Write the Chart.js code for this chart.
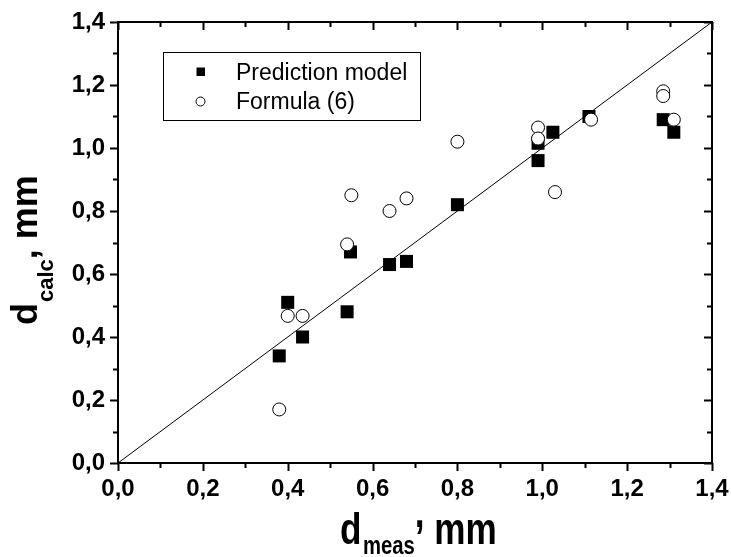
<!DOCTYPE html>
<html><head><meta charset="utf-8">
<script src="https://cdn.jsdelivr.net/npm/chart.js@4/dist/chart.umd.min.js"></script>
<style>html,body{margin:0;padding:0;background:#fff}#wrap{width:731px;height:557px}</style>
</head><body><div id="wrap"><canvas id="c" width="731" height="557"></canvas></div>
<script>
const predictionX = [0.38, 0.40, 0.435, 0.54, 0.548, 0.64, 0.68, 0.80, 0.99, 0.99, 1.025, 1.11, 1.285, 1.31];
const predictionY = [0.34, 0.51, 0.40, 0.48, 0.67, 0.63, 0.64, 0.82, 0.96, 1.015, 1.05, 1.10, 1.09, 1.05];
const formulaX = [0.38, 0.40, 0.435, 0.54, 0.55, 0.64, 0.68, 0.80, 0.99, 0.99, 1.03, 1.115, 1.285, 1.285, 1.31];
const formulaY = [0.17, 0.467, 0.467, 0.694, 0.85, 0.80, 0.84, 1.02, 1.065, 1.03, 0.86, 1.09, 1.18, 1.165, 1.09];
const lineX = [0, 1.4];
const lineY = [0, 1.4];
const tickValues = [0, 0.2, 0.4, 0.6, 0.8, 1.0, 1.2, 1.4];
const minorTickValues = [0.1, 0.3, 0.5, 0.7, 0.9, 1.1, 1.3];
const seriesNames = ['Prediction model', 'Formula (6)'];

const pts = (xs, ys) => xs.map((x, i) => ({x: x, y: ys[i]}));
const fmt = v => v.toFixed(1).replace('.', ',');
const FONT = '"Liberation Sans", Arial, sans-serif';

const framePlugin = {
  id: 'frame',
  afterDraw(chart) {
    const ctx = chart.ctx, xs = chart.scales.x, ys = chart.scales.y;
    const a = chart.chartArea;
    ctx.save();
    ctx.strokeStyle = '#000';
    ctx.lineWidth = 2;
    ctx.strokeRect(a.left, a.top, a.right - a.left, a.bottom - a.top);
    ctx.beginPath();
    const tick = (vals, len) => {
      vals.forEach(v => {
        const px = Math.round(xs.getPixelForValue(v)) + 0.5;
        ctx.moveTo(px, a.bottom); ctx.lineTo(px, a.bottom + len);
        ctx.moveTo(px, a.top); ctx.lineTo(px, a.top + len);
        const py = Math.round(ys.getPixelForValue(v)) + 0.5;
        ctx.moveTo(a.left, py); ctx.lineTo(a.left - len, py);
        ctx.moveTo(a.right, py); ctx.lineTo(a.right - len, py);
      });
    };
    tick(tickValues, 8);
    tick(minorTickValues, 5);
    ctx.stroke();

    // legend
    ctx.lineWidth = 1;
    ctx.strokeRect(163.5, 52.5, 257, 68);
    ctx.fillStyle = '#000';
    ctx.fillRect(196.5, 67.5, 8.5, 8.5);
    ctx.beginPath();
    ctx.arc(200.5, 101.5, 4.5, 0, Math.PI * 2);
    ctx.fillStyle = '#fff'; ctx.fill(); ctx.stroke();
    ctx.fillStyle = '#000';
    ctx.font = '23px ' + FONT;
    ctx.textBaseline = 'alphabetic';
    ctx.textAlign = 'left';
    ctx.fillText(seriesNames[0], 236, 79.5);
    ctx.fillText(seriesNames[1], 236, 108.5);

    // x title
    ctx.save();
    ctx.translate(340, 544);
    ctx.scale(0.78, 1);
    ctx.font = 'bold 45px ' + FONT;
    ctx.fillText('d', 0, 0);
    let cx = ctx.measureText('d').width + 2;
    ctx.font = 'bold 26px ' + FONT;
    ctx.fillText('meas', cx, 10);
    cx += ctx.measureText('meas').width;
    ctx.font = 'bold 45px ' + FONT;
    ctx.fillText(',', cx, -17);
    cx += ctx.measureText(', ').width;
    ctx.fillText('mm', cx, 0);
    ctx.restore();

    // y title
    ctx.save();
    ctx.translate(37, 325);
    ctx.rotate(-Math.PI / 2);
    ctx.font = 'bold 36px ' + FONT;
    ctx.fillText('d', 0, 0);
    let cy = ctx.measureText('d').width + 1;
    ctx.font = 'bold 22px ' + FONT;
    ctx.fillText('calc', cy, 16);
    cy += ctx.measureText('calc').width;
    ctx.font = 'bold 36px ' + FONT;
    ctx.fillText(',', cy, 0);
    cy += ctx.measureText(', ').width;
    ctx.fillText('mm', cy, 0);
    ctx.restore();

    ctx.restore();
  }
};

new Chart(document.getElementById('c'), {
  type: 'scatter',
  data: {
    datasets: [
      {
        label: seriesNames[0],
        data: pts(predictionX, predictionY),
        pointStyle: 'rect',
        pointRadius: 9.2,
        pointHoverRadius: 9.2,
        backgroundColor: '#000',
        borderColor: '#000',
        borderWidth: 0,
        order: 2
      },
      {
        label: seriesNames[1],
        data: pts(formulaX, formulaY),
        pointStyle: 'circle',
        pointRadius: 6.5,
        pointHoverRadius: 6.5,
        backgroundColor: '#fff',
        borderColor: '#000',
        borderWidth: 1,
        order: 1
      },
      {
        type: 'line',
        label: 'y = x',
        data: pts(lineX, lineY),
        borderColor: '#000',
        borderWidth: 1,
        pointRadius: 0,
        fill: false,
        order: 3
      }
    ]
  },
  options: {
    responsive: false,
    animation: false,
    devicePixelRatio: 1,
    layout: { padding: { top: 22, right: 19, left: 0, bottom: 0 } },
    plugins: { legend: { display: false }, tooltip: { enabled: false } },
    scales: {
      x: {
        type: 'linear', min: 0, max: 1.4, position: 'bottom',
        afterBuildTicks: s => { s.ticks = tickValues.map(v => ({value: v})); },
        afterFit: s => { s.height = 94; s.paddingLeft = 0; s.paddingRight = 0; },
        ticks: { callback: v => fmt(v), color: '#000', font: { family: FONT, size: 24, weight: 'bold' }, padding: 12, maxRotation: 0, autoSkip: false },
        grid: { display: false, drawTicks: false },
        border: { display: false }
      },
      y: {
        type: 'linear', min: 0, max: 1.4, position: 'left',
        afterBuildTicks: s => { s.ticks = tickValues.map(v => ({value: v})); },
        afterFit: s => { s.width = 118; s.paddingTop = 0; s.paddingBottom = 0; },
        ticks: { callback: v => fmt(v), color: '#000', font: { family: FONT, size: 24, weight: 'bold' }, padding: 13, autoSkip: false },
        grid: { display: false, drawTicks: false },
        border: { display: false }
      }
    }
  },
  plugins: [framePlugin]
});
</script>
</body></html>
